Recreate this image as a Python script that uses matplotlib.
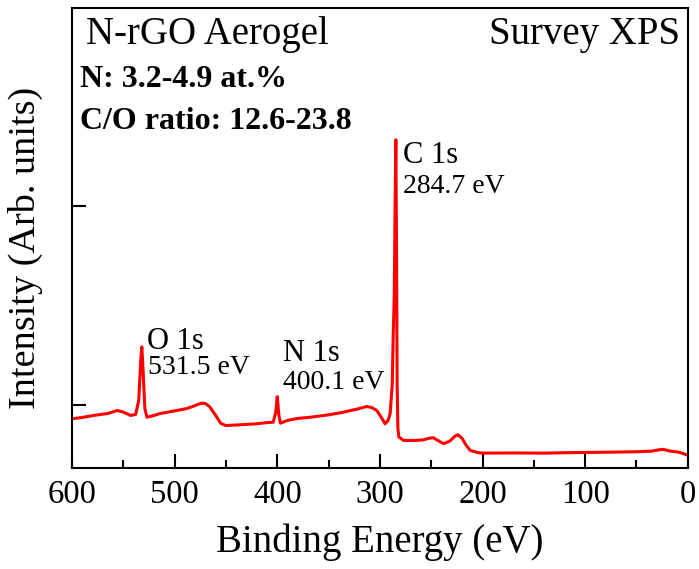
import numpy as np
import matplotlib.pyplot as plt
from matplotlib.ticker import MultipleLocator

plt.rcParams['font.family'] = ['Liberation Serif', 'DejaVu Serif']

# survey spectrum (binding energy in eV, intensity in 1e4 counts)
energia = [600, 590, 579, 565, 556, 550, 543, 538, 535, 533, 532, 531, 529, 527,
           520, 514, 500, 488, 480, 474, 470, 466, 460, 455, 450, 440, 433, 420,
           410, 404, 401.5, 400, 398.5, 397, 390, 380, 368, 350, 336, 320, 313,
           308, 303, 298, 295, 292, 290, 288, 287, 286, 285.2, 284.5, 283.8, 283.2,
           282.5, 281.5, 277, 265, 258, 252, 248, 244, 238, 232, 227, 224, 220,
           216, 212, 205, 200, 170, 140, 110, 73, 50, 35, 28, 24, 18, 9, 4, 0]
intensidade = [9.28, 9.35, 9.45, 9.55, 9.70, 9.62, 9.45, 9.50, 10.2, 12.2, 12.91, 12.0,
               9.8, 9.36, 9.45, 9.55, 9.68, 9.80, 9.95, 10.07, 10.05, 9.90, 9.45, 9.05,
               8.94, 8.97, 8.99, 9.03, 9.09, 9.11, 9.6, 10.40, 9.5, 9.06, 9.20, 9.30,
               9.36, 9.48, 9.61, 9.80, 9.90, 9.85, 9.70, 9.30, 9.03, 9.2, 9.55, 11.0,
               13.57, 15.5, 20.0, 23.35, 18.0, 11.0, 8.8, 8.36, 8.19, 8.19, 8.22, 8.30,
               8.33, 8.20, 8.03, 8.15, 8.40, 8.48, 8.30, 7.95, 7.69, 7.58, 7.55, 7.56,
               7.55, 7.58, 7.60, 7.62, 7.65, 7.72, 7.74, 7.66, 7.60, 7.52, 7.44]

# rotulos dos picos
nomes_picos = ['O 1s', 'N 1s', 'C 1s']
valores_picos = ['531.5 eV', '400.1 eV', '284.7 eV']


def main():
    fig = plt.figure(figsize=(6.99, 5.69), dpi=100)
    ax = fig.add_axes([0.103, 0.1775, 0.881, 0.8085])

    ax.plot(energia, intensidade, color='#ff0000', lw=2.2)

    ax.set_xlim(600, 0)
    ax.set_ylim(6.8, 30)
    ax.xaxis.set_major_locator(MultipleLocator(100))
    ax.xaxis.set_minor_locator(MultipleLocator(50))
    ax.set_yticks([10, 20])
    ax.set_yticklabels([])
    ax.tick_params(axis='both', which='both', direction='in', top=False, right=False)
    ax.tick_params(axis='both', which='major', length=10, width=1.5, labelsize=23.5)
    ax.tick_params(axis='x', which='minor', length=6, width=1.5)
    ax.tick_params(axis='x', which='major', pad=8)
    for s in ax.spines.values():
        s.set_linewidth(1.5)

    ax.set_xlabel('Binding Energy (eV)', fontsize=28, labelpad=10)
    ax.set_ylabel('Intensity (Arb. units)', fontsize=27.5)
    ax.yaxis.set_label_coords(-0.047, 0.478)

    ax.text(0.022, 0.982, 'N-rGO Aerogel', transform=ax.transAxes,
            fontsize=28, ha='left', va='top')
    ax.text(0.988, 0.982, 'Survey XPS', transform=ax.transAxes,
            fontsize=28, ha='right', va='top')
    ax.text(0.013, 0.876, 'N: 3.2-4.9 at.%', transform=ax.transAxes,
            fontsize=23, fontweight='bold', ha='left', va='top')
    ax.text(0.013, 0.785, 'C/O ratio: 12.6-23.8', transform=ax.transAxes,
            fontsize=23, fontweight='bold', ha='left', va='top')

    # posicoes dos rotulos (energia, intensidade) do nome e do valor
    pos_nome = [(527, 13.91), (394.5, 13.31), (277.6, 23.29)]
    pos_valor = [(526, 12.50), (394.8, 11.74), (277.6, 21.63)]
    for nome, valor, pn, pv in zip(nomes_picos, valores_picos, pos_nome, pos_valor):
        ax.text(pn[0], pn[1], nome, fontsize=22, ha='left', va='top')
        ax.text(pv[0], pv[1], valor, fontsize=20, ha='left', va='top')

    fig.savefig('out.png', dpi=100)


if __name__ == '__main__':
    main()
